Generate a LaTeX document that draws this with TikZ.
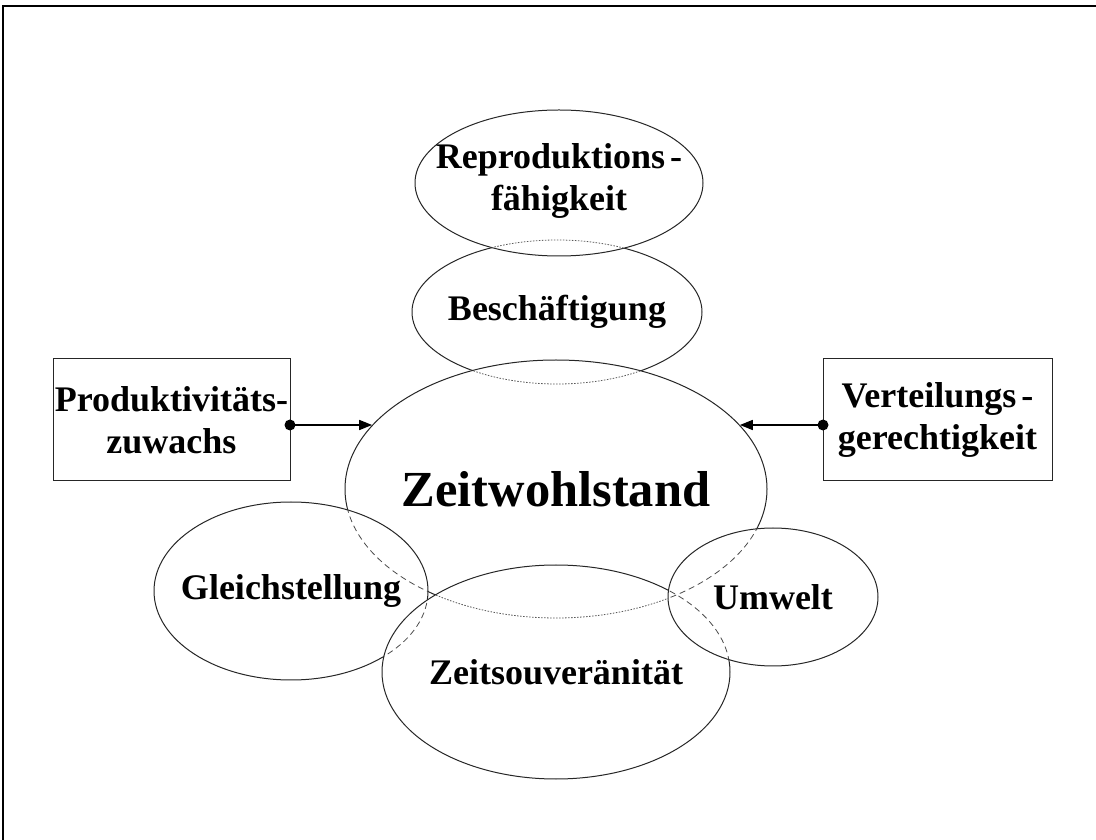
\documentclass[tikz,border=0pt]{standalone}
\usepackage{fontspec}
\setmainfont{Liberation Serif}
\usetikzlibrary{shapes.geometric,arrows.meta}
\begin{document}
\begin{tikzpicture}[x=1pt,y=1pt,
  ell/.style={ellipse,draw=black!85,line width=1pt,fill=white,inner sep=0pt,outer sep=0pt},
  lbl/.style={font=\fontsize{36}{42}\selectfont\bfseries,align=center,inner sep=0pt},
  bigl/.style={font=\fontsize{50.5}{56}\selectfont\bfseries,inner sep=0pt},
  boxn/.style={draw=black!85,line width=1pt,inner sep=0pt,outer sep=0pt},
  hid/.style={draw=black!65,line width=0.8pt,dash pattern=on 1.5pt off 1.5pt},
  hidd/.style={draw=black!70,line width=0.8pt,dash pattern=on 6pt off 4pt},
  conn/.style={line width=1.4pt,-{Triangle[length=13pt,width=10pt]}}
]
\useasboundingbox (0,0) rectangle (1096,839);
\draw[line width=1.5pt] (3,-5) -- (3,833);
\draw[line width=2.5pt] (2.25,833) -- (1100,833);

% ellipses, bottom to top
\node[ell,minimum width=290pt,minimum height=144pt] (besch) at (557,527) {};
\node[ell,minimum width=288pt,minimum height=146pt] (repro) at (559,656) {};
\begin{scope}
  \clip (repro.center) ellipse [x radius=144pt,y radius=73pt];
  \draw[hid] (besch.center) ellipse [x radius=145pt,y radius=72pt];
\end{scope}
\node[ell,minimum width=422pt,minimum height=258pt] (zw) at (556,350) {};
\begin{scope}
  \clip (zw.center) ellipse [x radius=211pt,y radius=129pt];
  \draw[hid] (besch.center) ellipse [x radius=145pt,y radius=72pt];
\end{scope}
\node[ell,minimum width=274pt,minimum height=178pt] (gleich) at (291,248) {};
\begin{scope}
  \clip (gleich.center) ellipse [x radius=137pt,y radius=89pt];
  \draw[hidd] (zw.center) ellipse [x radius=211pt,y radius=129pt];
\end{scope}
\node[ell,minimum width=348pt,minimum height=214pt] (zs) at (556,167) {};
\begin{scope}
  \clip (zs.center) ellipse [x radius=174pt,y radius=107pt];
  \draw[hid] (zw.center) ellipse [x radius=211pt,y radius=129pt];
  \draw[hidd] (gleich.center) ellipse [x radius=137pt,y radius=89pt];
\end{scope}
\node[ell,minimum width=210pt,minimum height=138pt] (umw) at (773,242) {};
\begin{scope}
  \clip (umw.center) ellipse [x radius=105pt,y radius=69pt];
  \draw[hidd] (zw.center) ellipse [x radius=211pt,y radius=129pt];
  \draw[hidd] (zs.center) ellipse [x radius=174pt,y radius=107pt];
\end{scope}

% boxes
\node[boxn,minimum width=237pt,minimum height=122pt] (boxL) at (171.5,419) {};
\node[boxn,minimum width=229pt,minimum height=122pt] (boxR) at (937.5,419) {};

% labels
\node[lbl] (reprot) at ([yshift=2pt]repro.center) {Reproduktions\hspace{5pt}-\\fähigkeit};
\node[lbl] (bescht) at (besch.center) {Beschäftigung};
\node[bigl] (zwt) at (zw.center) {Zeitwohlstand};
\node[lbl] (gleicht) at (gleich.center) {Gleichstellung};
\node[lbl] (zst) at (zs.center) {Zeitsouveränität};
\node[lbl] (umwt) at (umw.center) {Umwelt};
\node[lbl] (boxLt) at (boxL.center) {Produktivitäts-\\zuwachs};
\node[lbl] (boxRt) at (boxR.center) {Verteilungs\hspace{5pt}-\\gerechtigkeit};

% connectors
\coordinate (dotL) at (boxL.east |- 0,414);
\coordinate (dotR) at (boxR.west |- 0,414);
\fill (dotL) circle (5.5pt);
\fill (dotR) circle (5.5pt);
\draw[conn] (dotL) -- (dotL -| zw.161);
\draw[conn] (dotR) -- (dotR -| zw.19);
\end{tikzpicture}
\end{document}
